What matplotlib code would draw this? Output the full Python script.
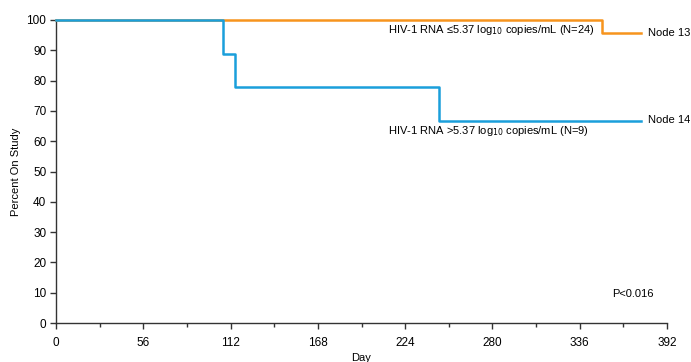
import numpy as np
import matplotlib.pyplot as plt
from matplotlib.ticker import MultipleLocator

plt.rcParams['font.family'] = ['Liberation Sans', 'DejaVu Sans']

# ---- Kaplan-Meier step data ----
low_days = [0, 350, 375]
low_pct = [100, 95.8, 95.8]

high_days = [0, 107, 115, 246, 375]
high_pct = [100, 88.9, 77.8, 66.7, 66.7]

x_ticks = [0, 56, 112, 168, 224, 280, 336, 392]
y_ticks = [0, 10, 20, 30, 40, 50, 60, 70, 80, 90, 100]

orange = '#F7941D'
blue = '#1A9FDB'
axis_col = '#333333'
fs = 8

fig = plt.figure(figsize=(6.91, 3.62), dpi=100)
ax = fig.add_axes([56 / 691, 1 - 323 / 362, 611 / 691, 303 / 362])

ax.step(low_days, low_pct, where='post', color=orange, lw=1.8, clip_on=False, zorder=3)
ax.step(high_days, high_pct, where='post', color=blue, lw=1.8, clip_on=False, zorder=4)

ax.set_xlim(0, 392)
ax.set_ylim(0, 100)
ax.set_xticks(x_ticks)
ax.set_yticks(y_ticks)
ax.xaxis.set_minor_locator(MultipleLocator(28))
ax.tick_params(axis='both', which='major', direction='out', length=4, width=1,
               color=axis_col, labelsize=fs + 0.5, pad=3)
ax.tick_params(axis='x', which='minor', direction='out', length=3, width=1, color=axis_col)
ax.tick_params(axis='x', pad=6)

for side in ['top', 'right']:
    ax.spines[side].set_visible(False)
for side in ['left', 'bottom']:
    ax.spines[side].set_color(axis_col)
    ax.spines[side].set_linewidth(1)

ax.set_xlabel('Day', fontsize=fs, labelpad=3)
ax.set_ylabel('Percent On Study', fontsize=fs, labelpad=4)

ax.text(213, 96.6, r'HIV-1 RNA ≤5.37 log$_{10}$ copies/mL (N=24)', fontsize=fs, va='center', ha='left')
ax.text(213, 63.3, r'HIV-1 RNA >5.37 log$_{10}$ copies/mL (N=9)', fontsize=fs, va='center', ha='left')
ax.text(380, 95.6, 'Node 13', fontsize=fs, va='center', ha='left', clip_on=False)
ax.text(380, 66.9, 'Node 14', fontsize=fs, va='center', ha='left', clip_on=False)
ax.text(357, 9.5, 'P<0.016', fontsize=fs, va='center', ha='left')

plt.savefig('out.png', dpi=100)
plt.close()
